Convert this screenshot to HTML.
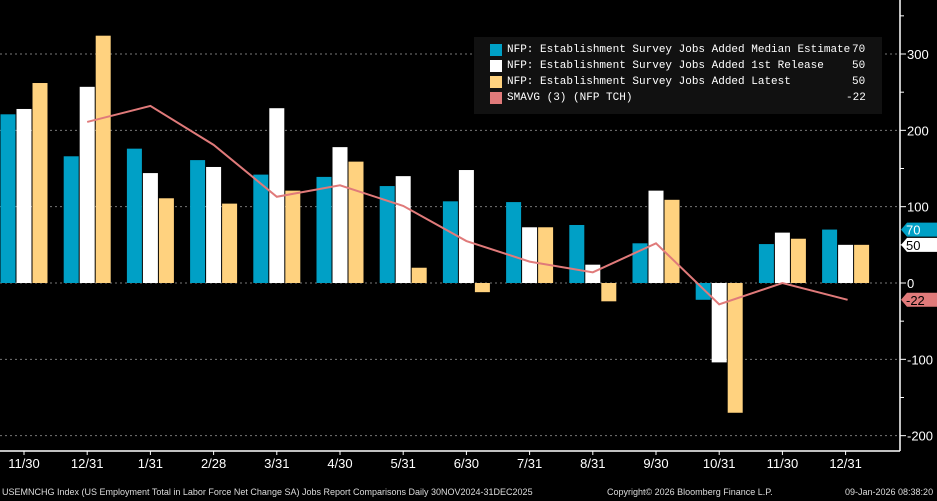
<!DOCTYPE html>
<html><head><meta charset="utf-8"><style>
body{margin:0;background:#000;width:937px;height:501px;overflow:hidden;font-family:"Liberation Mono","DejaVu Sans Mono",monospace}
svg text{font-family:"Liberation Sans Narrow","Liberation Sans",sans-serif}
</style></head><body>
<svg id="c" width="937" height="501" style="position:absolute;left:0;top:0" xmlns="http://www.w3.org/2000/svg"></svg>
<script>
const categories=["11/30","12/31","1/31","2/28","3/31","4/30","5/31","6/30","7/31","8/31","9/30","10/31","11/30","12/31"];
const medianEstimate=[221,166,176,161,142,139,127,107,106,76,52,-22,51,70];
const firstRelease=[228,257,144,152,229,178,140,148,73,24,121,-104,66,50];
const latest=[262,324,111,104,121,159,20,-12,73,-24,109,-170,58,50];
const smavg=[null,211,232,181,113,128,101,55,28,14,52,-28,0,-22];
const yTicks=[300,200,100,0,-100,-200];
const svg=document.getElementById('c');
const NS="http://www.w3.org/2000/svg";
function y(v){return 283-v*0.7633;}
function x(i){return 24+i*63.2;}
function mk(t,a,p){const e=document.createElementNS(NS,t);for(const k in a)e.setAttribute(k,a[k]);(p||svg).appendChild(e);return e;}
yTicks.forEach(v=>{
 const g=mk('line',{x1:0,x2:900,y1:y(v),y2:y(v),stroke:'#777','stroke-dasharray':'2,3','stroke-width':1});
 
 
 mk('line',{x1:900,x2:906,y1:y(v),y2:y(v),stroke:'#fff'});
 mk('line',{x1:900,x2:904,y1:y(v+50),y2:y(v+50),stroke:'#fff'});
 const t=mk('text',{x:907,y:y(v)+5,fill:'#fff','font-size':13});
 t.textContent=v;
 
 
});
mk('line',{x1:900,x2:900,y1:0,y2:451,stroke:'#fff','stroke-width':1.5});
mk('line',{x1:0,x2:900,y1:451,y2:451,stroke:'#fff','stroke-width':1.5});
const series=[[medianEstimate,'#00a0c6',-23.5],[firstRelease,'#ffffff',-7.5],[latest,'#ffd27f',8.5]];
series.forEach((s,si)=>{
 s[0].forEach((v,i)=>{
  const b=mk('rect',{x:x(i)+s[2],y:Math.min(y(v),y(0)),width:15,height:Math.abs(y(v)-y(0)),fill:s[1]});
  
  
 });
});
let pts=[];smavg.forEach((v,i)=>{if(v!==null)pts.push(x(i)+(i==categories.length-1?2:0)+','+y(v));});
const pl=mk('polyline',{points:pts.join(' '),fill:'none',stroke:'#e07a7a','stroke-width':2});


categories.forEach((c,i)=>{
 mk('line',{x1:x(i),x2:x(i),y1:451,y2:455,stroke:'#fff'});
 const t=mk('text',{x:x(i),y:468,fill:'#fff','font-size':13,'text-anchor':'middle'});
 t.textContent=c;
 
 
});
function tag(v,txt,bg,fg){
 const g=mk('g',{});
 
 
 const yy=y(v);
 mk('polygon',{points:`901,${yy} 907,${yy-7} 937,${yy-7} 937,${yy+7} 907,${yy+7}`,fill:bg},g);
 const t=mk('text',{x:906,y:yy+5,fill:fg,'font-size':13},g);t.textContent=txt;
}
tag(70,'70','#00a0c6','#fff');tag(50,'50','#fff','#000');tag(-22,'-22','#e07a7a','#000');
</script>
<div style="position:absolute;left:474px;top:37px;width:408px;height:77px;background:#111;color:#fff;font-size:11px;line-height:16px;padding-top:5px;box-sizing:border-box;white-space:nowrap">
 <div style="position:relative;height:16px"><span style="position:absolute;left:16px;top:2px;width:12px;height:12px;background:#00a0c6"></span><span style="position:absolute;left:33px">NFP: Establishment Survey Jobs Added Median Estimate</span><span style="position:absolute;left:378px">70</span></div>
 <div style="position:relative;height:16px"><span style="position:absolute;left:16px;top:2px;width:12px;height:12px;background:#fff"></span><span style="position:absolute;left:33px">NFP: Establishment Survey Jobs Added 1st Release</span><span style="position:absolute;left:378px">50</span></div>
 <div style="position:relative;height:16px"><span style="position:absolute;left:16px;top:2px;width:12px;height:12px;background:#ffd27f"></span><span style="position:absolute;left:33px">NFP: Establishment Survey Jobs Added Latest</span><span style="position:absolute;left:378px">50</span></div>
 <div style="position:relative;height:16px"><span style="position:absolute;left:16px;top:2px;width:12px;height:12px;background:#e07a7a"></span><span style="position:absolute;left:33px">SMAVG (3) (NFP TCH)</span><span style="position:absolute;left:372px">-22</span></div>
</div>
<div style="position:absolute;left:2px;top:487px;color:#ddd;font-size:9px;white-space:nowrap;font-family:'Liberation Sans Narrow','Liberation Sans',sans-serif">USEMNCHG Index (US Employment Total in Labor Force Net Change SA) Jobs Report Comparisons Daily 30NOV2024-31DEC2025</div>
<div style="position:absolute;left:607px;top:487px;color:#ddd;font-size:9px;white-space:nowrap;font-family:'Liberation Sans Narrow','Liberation Sans',sans-serif">Copyright© 2026 Bloomberg Finance L.P.</div>
<div style="position:absolute;left:845px;top:487px;color:#ddd;font-size:9px;white-space:nowrap;font-family:'Liberation Sans Narrow','Liberation Sans',sans-serif">09-Jan-2026 08:38:20</div>
</body></html>
